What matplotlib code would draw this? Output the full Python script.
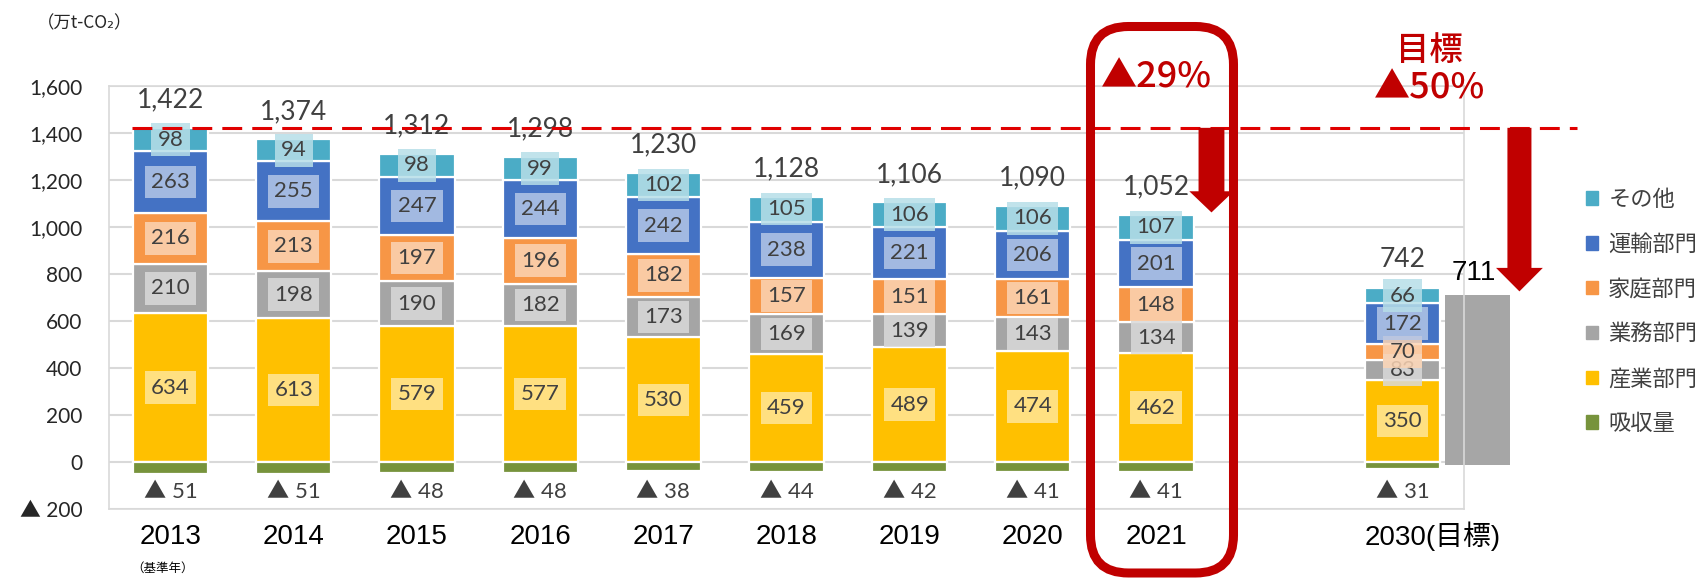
import numpy as np
import matplotlib
matplotlib.use("Agg")
import matplotlib.pyplot as plt
from matplotlib.patches import Patch, FancyArrow, FancyBboxPatch
from matplotlib.transforms import ScaledTranslation

# DATA (万t-CO2)
years = ["2013", "2014", "2015", "2016", "2017", "2018", "2019", "2020", "2021", "2030(目標)"]
industry = [634, 613, 579, 577, 530, 459, 489, 474, 462, 350]
business = [210, 198, 190, 182, 173, 169, 139, 143, 134, 83]
household = [216, 213, 197, 196, 182, 157, 151, 161, 148, 70]
transport = [263, 255, 247, 244, 242, 238, 221, 206, 201, 172]
other = [98, 94, 98, 99, 102, 105, 106, 106, 107, 66]
absorb = [51, 51, 48, 48, 38, 44, 42, 41, 41, 31]
totals = [1422, 1374, 1312, 1298, 1230, 1128, 1106, 1090, 1052, 742]
target_2030 = 711
base_year = 1422

NUM = ["Lato", "Noto Sans CJK JP", "DejaVu Sans"]
JP = ["Noto Sans CJK JP", "DejaVu Sans"]
ARIAL = ["Liberation Sans", "Noto Sans CJK JP", "DejaVu Sans"]
RED = "#C00000"
TXT = "#404040"

# series bottom -> top: name, values, colour, label box colour
series = [
    ("産業部門", industry, "#FFC000", "#FFE699"),
    ("業務部門", business, "#A5A5A5", "#D9D9D9"),
    ("家庭部門", household, "#F79646", "#FBD4B4"),
    ("運輸部門", transport, "#4472C4", "#B4C6E7"),
    ("その他", other, "#4BACC6", "#B7DEE8"),
]

fig = plt.figure(figsize=(17.08, 5.8), dpi=100)
ax = fig.add_axes([109 / 1708, 71 / 580, (1464 - 109) / 1708, (509 - 86) / 580])

pos = np.arange(len(years), dtype=float)
pos[-1] += 1  # gap before 2030
w = 0.61

handles = {}
bottom = np.zeros(len(years))
for name, vals, col, light in series:
    vals = np.array(vals)
    b = ax.bar(pos, vals, w, bottom=bottom, color=col, edgecolor="white", linewidth=1.6, zorder=2)
    handles[name] = b
    for x, v, y0 in zip(pos, vals, bottom):
        ax.text(x, y0 + v / 2, str(v), ha="center", va="center", fontsize=16, color=TXT,
                family=NUM, zorder=4,
                bbox=dict(boxstyle="square,pad=0.28", fc=light, ec="none", alpha=0.85))
    bottom = bottom + vals

# absorption (negative)
g = ax.bar(pos, -np.array(absorb), w, color="#77933C", edgecolor="white", linewidth=1.6, zorder=2)
handles["吸収量"] = g
for x, v in zip(pos, absorb):
    ax.text(x, -127, f"▲ {v}", ha="center", va="center", fontsize=16, color=TXT, family=NUM)

# totals
for x, t in zip(pos, totals):
    ax.text(x, t + 118, f"{t:,}", ha="center", va="center", fontsize=19, color=TXT, family=NUM)

# 2030 target bar
ax.bar(pos[-1] + 0.61, target_2030 + 12, 0.53, bottom=-12, color="#A6A6A6", zorder=2, clip_on=False)
ax.text(pos[-1] + 0.58, target_2030 + 95, f"{target_2030}", ha="center", va="center",
        fontsize=20, color="black", family=ARIAL)

# base-year dashed line
ax.plot([pos[0] - 0.31, pos[-1] + 1.42], [base_year, base_year], color="#E00000", lw=2.2,
        ls=(0, (6.5, 3.3)), clip_on=False, zorder=5)

# arrows
ax.add_patch(FancyArrow(pos[8] + 0.45, base_year, 0, totals[8] + 10 - base_year, width=0.21,
                        head_width=0.36, head_length=90, length_includes_head=True,
                        color=RED, lw=0, clip_on=False, zorder=6))
ax.add_patch(FancyArrow(pos[-1] + 0.95, base_year, 0, target_2030 + 15 - base_year, width=0.195,
                        head_width=0.38, head_length=100, length_includes_head=True,
                        color=RED, lw=0, clip_on=False, zorder=6))

# red annotations
ax.text(pos[8], 1638, "▲29%", ha="center", va="center", fontsize=26, color=RED, family=JP,
        fontweight="medium")
ax.text(pos[-1] + 0.22, 1753, "目標", ha="center", va="center", fontsize=24, color=RED, family=JP,
        fontweight="medium")
ax.text(pos[-1] + 0.22, 1591, "▲50%", ha="center", va="center", fontsize=26, color=RED, family=JP,
        fontweight="medium")

# rounded box around 2021
box = FancyBboxPatch((10.905, 0.07), 1.43, 5.465, boxstyle="round,pad=0,rounding_size=0.38",
                     transform=fig.dpi_scale_trans, fill=False, ec=RED, lw=6.5, zorder=10)
fig.add_artist(box)

# axes styling
ax.set_xlim(-0.5, 10.5)
ax.set_ylim(-200, 1600)
ax.set_yticks(range(-200, 1601, 200))
ax.set_yticklabels([f"{v:,}" if v >= 0 else f"▲ {abs(v)}" for v in range(-200, 1601, 200)],
                   fontsize=15, color="#262626", family=NUM)
ax.tick_params(axis="y", length=0, pad=19)
ax.set_xticks(pos)
ax.set_xticklabels(years, fontsize=20, color="black", family=ARIAL)
ax.tick_params(axis="x", length=0, pad=11)
lab = ax.get_xticklabels()[-1]
lab.set_transform(lab.get_transform() + ScaledTranslation(0.3, 0.03, fig.dpi_scale_trans))
ax.grid(axis="y", color="#D9D9D9", lw=1.5)
ax.set_axisbelow(True)
for s in ax.spines.values():
    s.set_color("#D9D9D9")
    s.set_linewidth(1.2)

fig.text(163 / 1708, 12 / 580, "（基準年）", ha="center", va="center", fontsize=9, family=JP)
fig.text(37 / 1708, 1 - 23 / 580, "（万t-CO₂）", ha="left", va="center", fontsize=12.5,
         family=JP, color="#262626")

# legend
order = ["その他", "運輸部門", "家庭部門", "業務部門", "産業部門", "吸収量"]
cols = {n: c for n, _, c, _ in series}
cols["吸収量"] = "#77933C"
hs = [Patch(color=cols[n]) for n in order]
leg = ax.legend(hs, order, loc="upper left", bbox_to_anchor=(1586 / 1708, 1 - 188 / 580),
                bbox_transform=fig.transFigure, frameon=False,
                handlelength=0.55, handleheight=0.55, handletextpad=0.45, labelspacing=0.98,
                borderpad=0, borderaxespad=0, prop={"family": JP, "size": 16})
for t in leg.get_texts():
    t.set_color(TXT)

fig.savefig("out.png", dpi=100)
